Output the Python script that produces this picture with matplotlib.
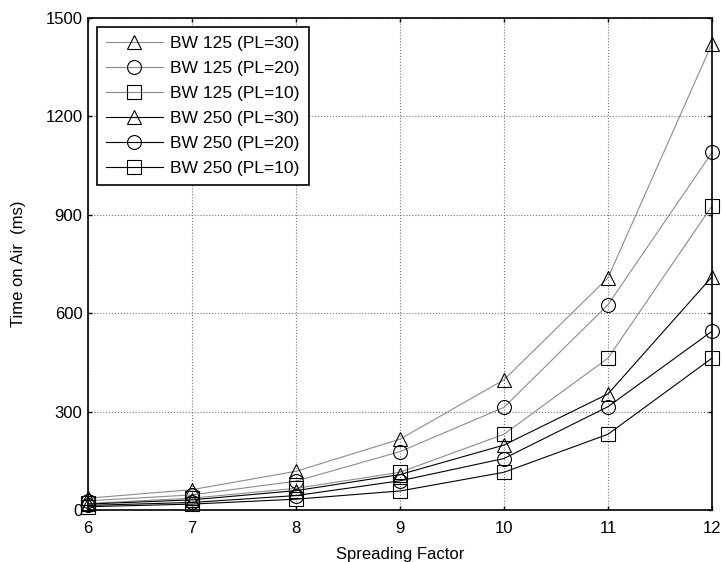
import numpy as np
import matplotlib.pyplot as plt

plt.rcParams['font.family'] = ['Liberation Sans', 'DejaVu Sans']

# spreading factors
sf = [6, 7, 8, 9, 10, 11, 12]

# time on air (ms)
bw125_pl30 = [36, 62, 118, 216, 397, 708, 1422]
bw125_pl20 = [28, 46, 88, 178, 313, 626, 1090]
bw125_pl10 = [20, 36, 66, 115, 231, 463, 927]
bw250_pl30 = [18, 31, 59, 108, 198, 354, 711]
bw250_pl20 = [14, 23, 44, 89, 157, 315, 545]
bw250_pl10 = [10, 18, 33, 58, 115, 231, 463]

series = [
    (bw125_pl30, '^', 'BW 125 (PL=30)', '#8c8c8c'),
    (bw125_pl20, 'o', 'BW 125 (PL=20)', '#8c8c8c'),
    (bw125_pl10, 's', 'BW 125 (PL=10)', '#8c8c8c'),
    (bw250_pl30, '^', 'BW 250 (PL=30)', 'black'),
    (bw250_pl20, 'o', 'BW 250 (PL=20)', 'black'),
    (bw250_pl10, 's', 'BW 250 (PL=10)', 'black'),
]

fig = plt.figure(figsize=(7.23, 5.62), dpi=100)
ax = fig.add_axes([88/723, 1 - 510/562, 624/723, 492/562])

for vals, mk, lab, col in series:
    ax.plot(sf, vals, color=col, linewidth=0.8, marker=mk, markersize=10,
            markerfacecolor='none', markeredgecolor='black',
            markeredgewidth=0.8, label=lab, clip_on=False)

ax.set_xlim(6, 12)
ax.set_ylim(0, 1500)
ax.set_xticks(sf)
ax.set_yticks([0, 300, 600, 900, 1200, 1500])
ax.tick_params(direction='in', labelsize=12, length=3, width=1, pad=4,
               top=True, right=True)
ax.tick_params(axis='x', pad=8)
ax.grid(True, linestyle=':', color='#777777', linewidth=0.8)
for sp in ax.spines.values():
    sp.set_linewidth(1.2)

ax.set_xlabel('Spreading Factor', fontsize=12, labelpad=8)
ax.set_ylabel('Time on Air  (ms)', fontsize=12, labelpad=14)

leg = ax.legend(loc='upper left', fontsize=12.6, fancybox=False, framealpha=1,
                edgecolor='black', borderaxespad=0.5, handlelength=3.3,
                labelspacing=0.56, handletextpad=0.4, borderpad=0.5)
leg.get_frame().set_linewidth(1.2)

fig.savefig('out.png', dpi=100)
